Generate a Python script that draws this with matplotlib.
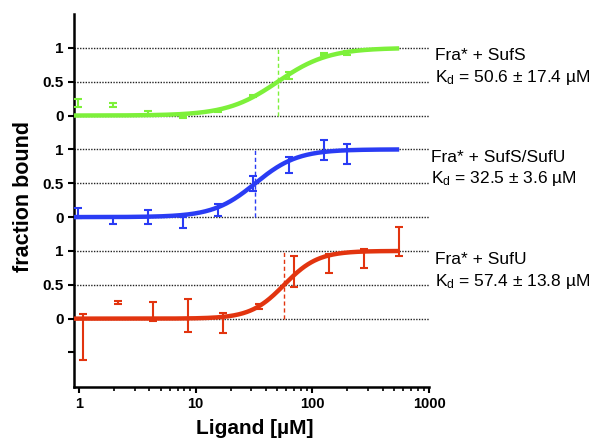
import numpy as np
import matplotlib
matplotlib.use("Agg")
import matplotlib.pyplot as plt
from matplotlib.ticker import FixedLocator, FixedFormatter, LogLocator, NullFormatter

plt.rcParams['font.family'] = ['Liberation Sans', 'DejaVu Sans']
plt.rcParams['mathtext.fontset'] = 'custom'
plt.rcParams['mathtext.rm'] = 'Liberation Sans'
plt.rcParams['mathtext.it'] = 'Liberation Sans:italic'

# ---- data ----
green_conc = [0.98, 1.95, 3.9, 7.8, 15.6, 31.3, 62.5, 125, 200]
green_y = [0.19, 0.155, 0.044, -0.02, 0.063, 0.29, 0.595, 0.91, 0.925]
green_err = [0.06, 0.03, 0.03, 0.02, 0.01, 0.01, 0.05, 0.02, 0.035]

blue_conc = [0.98, 1.95, 3.9, 7.8, 15.6, 31.3, 62.5, 125, 200]
blue_y = [0.06, -0.05, 0.0, -0.08, 0.11, 0.49, 0.77, 0.99, 0.93]
blue_err = [0.08, 0.05, 0.1, 0.08, 0.09, 0.11, 0.12, 0.15, 0.15]

red_conc = [1.08, 2.17, 4.33, 8.66, 17.3, 34.6, 69.3, 139, 277, 554]
red_y = [-0.27, 0.235, 0.11, 0.047, -0.06, 0.18, 0.695, 0.82, 0.895, 1.14]
red_err = [0.345, 0.02, 0.14, 0.24, 0.15, 0.04, 0.23, 0.14, 0.14, 0.21]

kd_values = [50.6, 32.5, 57.4]
kd_errors = [17.4, 3.6, 13.8]
hill = [2.0, 2.4, 3.0]
names = ["Fra* + SufS", "Fra* + SufS/SufU", "Fra* + SufU"]
offsets = [3.0, 1.5, 0.0]
colors = ["#7DF03A", "#2A3CF4", "#E2340F"]

ytick_pos = [-0.5, 0, 0.5, 1, 1.5, 2, 2.5, 3, 3.5, 4]
ytick_lab = ["", "0", "0.5", "1", "0", "0.5", "1", "0", "0.5", "1"]
xtick_pos = [1, 10, 100, 1000]
xtick_lab = ["1", "10", "100", "1000"]

# ---- figure ----
W, H = 592, 438
fig = plt.figure(figsize=(W / 100, H / 100), dpi=100)
ax = fig.add_axes([74 / W, 51 / H, 355 / W, 373 / H])
ax.set_xscale('log')
xmin, xmax = 0.906, 1000
ax.set_xlim(xmin, xmax)
ax.set_ylim(-1.01, 4.5)

# dotted gridlines
for yv in ytick_pos:
    if yv >= 0:
        ax.axhline(yv, color='#222222', ls=(0, (1, 1)), lw=1.0, zorder=1)

series = [(green_conc, green_y, green_err), (blue_conc, blue_y, blue_err), (red_conc, red_y, red_err)]
xc = np.geomspace(xmin, 555, 400)
for (conc, yy, ee), kd, n, off, col in zip(series, kd_values, hill, offsets, colors):
    fit = xc ** n / (kd ** n + xc ** n)
    ax.plot(xc, fit + off, color=col, lw=3.2, solid_capstyle='butt', zorder=3)
    ax.errorbar(conc, np.array(yy) + off, yerr=ee, fmt='none', ecolor=col,
                elinewidth=1.5, capsize=3, capthick=1.5, zorder=4)
    ax.plot([kd, kd], [off, off + 1], color=col, lw=1.0, ls=(0, (3, 2)), zorder=2)

for sp in ['top', 'right']:
    ax.spines[sp].set_visible(False)
for sp in ['left', 'bottom']:
    ax.spines[sp].set_linewidth(1.8)

ax.yaxis.set_major_locator(FixedLocator(ytick_pos))
ax.yaxis.set_major_formatter(FixedFormatter(ytick_lab))
ax.xaxis.set_major_locator(FixedLocator(xtick_pos))
ax.xaxis.set_major_formatter(FixedFormatter(xtick_lab))
ax.xaxis.set_minor_locator(LogLocator(base=10, subs=np.arange(2, 10)))
ax.xaxis.set_minor_formatter(NullFormatter())
ax.tick_params(axis='both', which='major', direction='out', length=4, width=1.5)
ax.tick_params(axis='x', which='minor', direction='out', length=3, width=1.2)
for lab in ax.get_yticklabels():
    lab.set_fontweight('bold')
    lab.set_fontsize(11)
for lab in ax.get_xticklabels():
    lab.set_fontweight('bold')
    lab.set_fontsize(10.5)

fig.text(255 / W, 1 - 429 / H, "Ligand [µM]", fontsize=15, fontweight='bold',
         ha='center', va='center')
fig.text(24 / W, 1 - 197 / H, "fraction bound", rotation=90, fontsize=15.5,
         fontweight='bold', ha='center', va='center')

text_pos = [(435, 60, 81.7), (431, 162.3, 183.3), (435, 264.3, 286)]
for (tx, y1, y2), nm, kd, ke in zip(text_pos, names, kd_values, kd_errors):
    fig.text(tx / W, 1 - y1 / H, nm, fontsize=12.5, ha='left', va='baseline')
    fig.text(tx / W, 1 - y2 / H, "K$_\\mathrm{d}$ = %.1f ± %.1f µM" % (kd, ke),
             fontsize=12.5, ha='left', va='baseline')

fig.savefig("out.png", dpi=100)
